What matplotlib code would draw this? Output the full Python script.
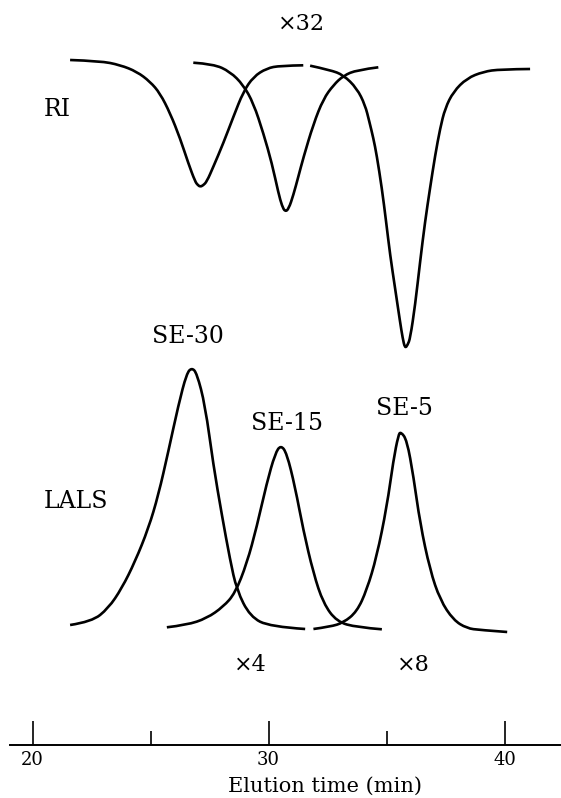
import matplotlib
matplotlib.use("Agg")
import matplotlib.pyplot as plt
from matplotlib.path import Path
from matplotlib.patches import PathPatch
from matplotlib.ticker import MultipleLocator

plt.rcParams['font.family'] = ['DejaVu Serif', 'DejaVu Sans']

# elution time (min) and detector signal (arbitrary units)
ri_se30_t = [21.59, 22.86, 23.71, 24.42, 24.98, 25.40, 25.83, 26.25, 26.60, 26.89,
             27.00, 27.10, 27.22, 27.38, 27.66, 28.08, 28.51, 28.93, 29.36, 29.92,
             30.49, 31.47]
ri_se30_s = [0.0, -0.1, -0.5, -1.17, -2.17, -3.33, -5.33, -7.83, -10.33, -12.17,
             -12.5, -12.67, -12.55, -12.17, -10.67, -8.33, -5.67, -3.17, -1.67, -0.83,
             -0.57, -0.53]

ri_se15_t = [26.81, 27.66, 28.37, 28.93, 29.36, 29.78, 30.14, 30.42, 30.57, 30.70,
             30.85, 31.05, 31.26, 31.47, 31.90, 32.32, 32.75, 33.17, 33.74, 34.65]
ri_se15_s = [-0.27, -0.4, -1.17, -2.5, -4.33, -7.33, -10.33, -13.33, -14.6, -15.17,
             -14.9, -13.5, -11.67, -9.8, -6.4, -3.9, -2.5, -1.57, -1.0, -0.73]

ri_se5_t = [31.76, 32.61, 33.17, 33.74, 34.09, 34.27, 34.44, 34.58, 34.80, 34.98,
            35.15, 35.36, 35.57, 35.68, 35.78, 35.89, 36.00, 36.21, 36.42, 36.63,
            36.84, 37.06, 37.27, 37.48, 37.83, 38.40, 39.10, 39.81, 41.08]
ri_se5_s = [-0.57, -1.0, -1.5, -2.83, -4.5, -6.17, -7.83, -9.5, -12.83, -16.17,
            -19.5, -22.83, -26.17, -27.8, -28.83, -28.5, -27.83, -24.5, -20.17, -16.17,
            -12.83, -9.5, -6.83, -4.83, -3.17, -1.83, -1.17, -0.93, -0.9]

lals_se30_t = [21.59, 22.51, 23.21, 23.78, 24.34, 24.91, 25.33, 25.75, 26.18, 26.53,
               26.75, 26.96, 27.31, 27.66, 28.02, 28.37, 28.65, 29.22, 30.06, 31.55]
lals_se30_s = [0.5, 0.83, 2.17, 4.17, 6.83, 10.17, 13.5, 17.83, 22.5, 25.67,
               26.23, 25.67, 22.5, 16.5, 11.5, 7.0, 4.0, 1.33, 0.33, 0.1]

lals_se15_t = [25.69, 26.53, 27.38, 28.08, 28.58, 29.08, 29.50, 29.92, 30.28, 30.52,
               30.77, 31.12, 31.47, 31.90, 32.32, 32.89, 33.74, 34.80]
lals_se15_s = [0.27, 0.5, 1.17, 2.33, 3.67, 6.67, 10.33, 14.67, 17.67, 18.5,
               17.67, 14.33, 10.0, 5.67, 2.67, 0.83, 0.27, 0.07]

lals_se5_t = [31.90, 32.61, 33.17, 33.74, 34.16, 34.58, 35.01, 35.29, 35.50, 35.60,
              35.86, 36.14, 36.42, 36.84, 37.27, 37.83, 38.40, 38.96, 40.11]
lals_se5_s = [0.1, 0.33, 0.73, 1.83, 4.0, 7.33, 12.33, 17.0, 19.5, 19.83,
              19.0, 15.33, 10.67, 6.0, 3.0, 1.0, 0.17, 0.0, -0.2]

peak_names = ['SE-30', 'SE-15', 'SE-5']
major_ticks = [20, 30, 40]

W, H = 561, 798
xlim = (18.62, 42.39)


def trace(ax, t, s):
    # quadratic bezier through the read points, so the pen trace stays smooth
    pts = list(zip(t, s))
    verts, codes = [pts[0]], [Path.MOVETO]
    for i in range(1, len(pts) - 1):
        nxt = pts[i + 1] if i == len(pts) - 2 else \
            ((pts[i][0] + pts[i + 1][0]) / 2, (pts[i][1] + pts[i + 1][1]) / 2)
        verts += [pts[i], nxt]
        codes += [Path.CURVE3, Path.CURVE3]
    ax.add_patch(PathPatch(Path(verts, codes), fill=False, lw=1.9,
                           edgecolor='black', capstyle='butt', joinstyle='round'))


fig = plt.figure(figsize=(W / 100, H / 100), dpi=100)

ax_ri = fig.add_axes([0, 1 - 360 / H, 1, 360 / H])
ax_ls = fig.add_axes([0, 1 - 700 / H, 1, 340 / H])
for ax in (ax_ri, ax_ls):
    ax.set_xlim(*xlim)
    ax.axis('off')
ax_ri.set_ylim(-30, 6)
ax_ls.set_ylim(-7, 27)

trace(ax_ri, ri_se30_t, ri_se30_s)
trace(ax_ri, ri_se15_t, ri_se15_s)
trace(ax_ri, ri_se5_t, ri_se5_s)
trace(ax_ls, lals_se30_t, lals_se30_s)
trace(ax_ls, lals_se15_t, lals_se15_s)
trace(ax_ls, lals_se5_t, lals_se5_s)

fs = 17
label_xy = [(188, 343), (287, 430), (404, 415)]
for name, (x, y) in zip(peak_names, label_xy):
    fig.text(x / W, 1 - y / H, name, ha='center', va='baseline', fontsize=fs)

fig.text(57 / W, 1 - 110 / H, 'RI', ha='center', va='center', fontsize=fs)
fig.text(76 / W, 1 - 501 / H, 'LALS', ha='center', va='center', fontsize=fs)
fig.text(301 / W, 1 - 24 / H, '×32', ha='center', va='center', fontsize=16)
fig.text(250 / W, 1 - 665 / H, '×4', ha='center', va='center', fontsize=16)
fig.text(413 / W, 1 - 665 / H, '×8', ha='center', va='center', fontsize=16)

# time axis
ax_t = fig.add_axes([0, 1 - 745 / H, 1, 0.01])
ax_t.set_xlim(*xlim)
ax_t.patch.set_visible(False)
for side in ('top', 'left', 'right'):
    ax_t.spines[side].set_visible(False)
ax_t.spines['bottom'].set_linewidth(1.4)
ax_t.spines['bottom'].set_bounds(19.05, xlim[1])
ax_t.set_yticks([])
ax_t.set_xticks(major_ticks)
ax_t.xaxis.set_minor_locator(MultipleLocator(5))
ax_t.tick_params(axis='x', which='major', direction='in', length=17, width=1.2,
                 labelsize=13, pad=4)
ax_t.tick_params(axis='x', which='minor', direction='in', length=10, width=1.2)
fig.text(325 / W, 1 - 786 / H, 'Elution time (min)', ha='center', va='center', fontsize=15)

fig.savefig('out.png', dpi=100)
